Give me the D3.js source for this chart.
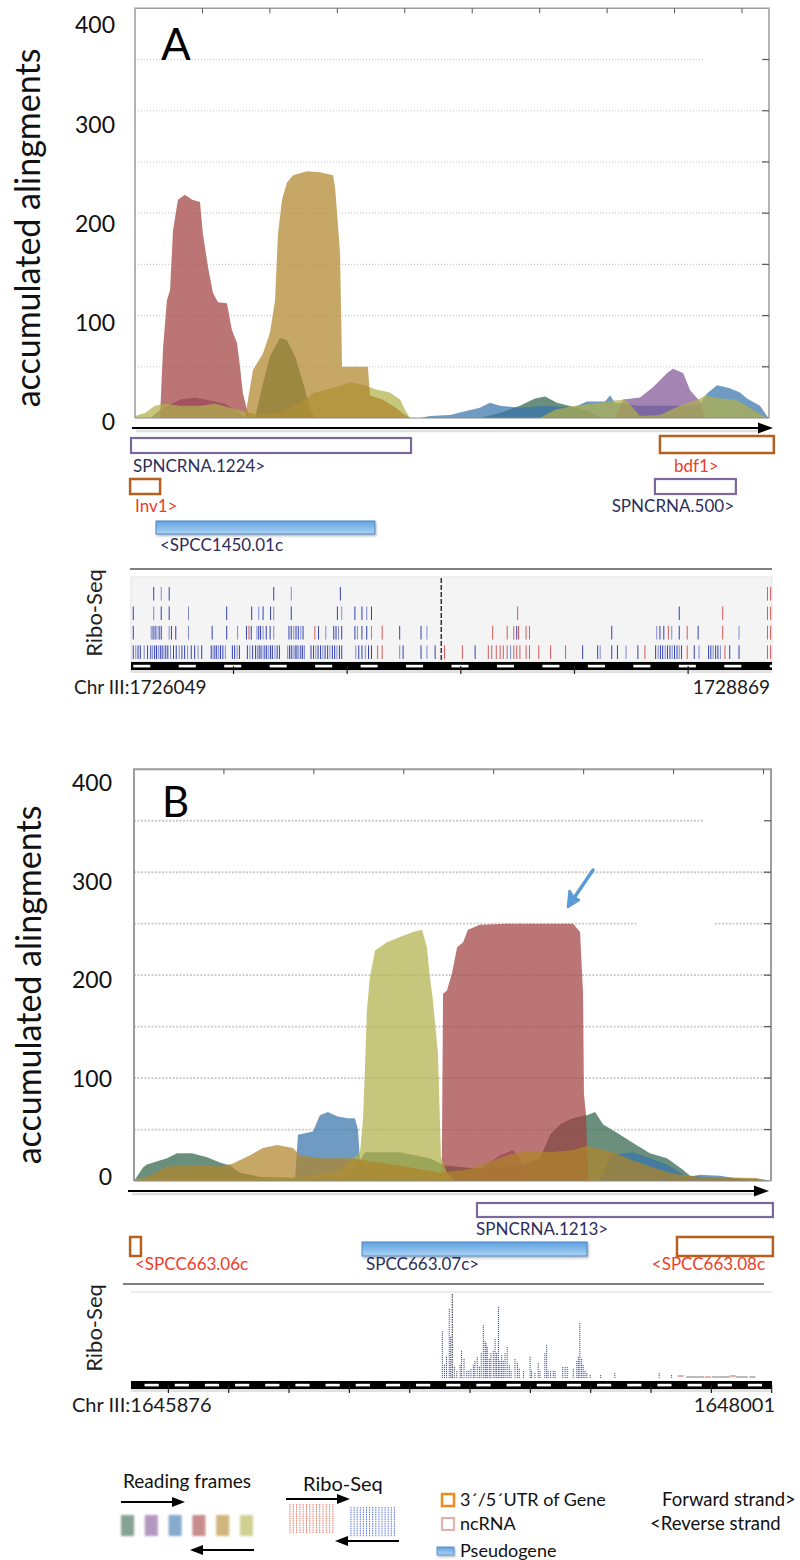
<!DOCTYPE html>
<html>
<head>
<meta charset="utf-8">
<script src="https://cdnjs.cloudflare.com/ajax/libs/d3/7.8.5/d3.min.js"></script>
<style>
  body { margin: 0; background: #fff; }
  svg text { font-family: Lato, "Open Sans", sans-serif; }
</style>
</head>
<body>
<div id="chart"></div>
<script>
// ---------------- data ----------------
// reading frames: green, purple, blue, red, tan, olive
var frameColors = ["#30654b", "#805596", "#3873ab", "#a14040", "#b0852a", "#b0b04b"];
var drawOrder = [0, 2, 1, 3, 5, 4];
var yTicks = [0, 100, 200, 300, 400];
var gridLevels = [50, 100, 150, 200, 250, 300, 350];

var regionA = ["Chr III", 1726049, 1728869];
var regionB = ["Chr III", 1645876, 1648001];

// coverage, [bp offset from region start, accumulated alignments]
var covA_green = [[534,0],[565,30],[600,60],[645,78],[676,76],[712,60],[747,35],[778,10],[800,0],[1534,0],[1623,5],[1712,12],[1779,19],[1824,21],[1877,15],[1948,11],[2024,6],[2068,0]];
var covA_purple = [[67,0],[111,8],[200,18],[267,20],[334,17],[400,14],[445,8],[489,0],[2135,0],[2171,18],[2246,20],[2304,30],[2367,44],[2393,48],[2438,44],[2469,27],[2513,16],[2535,0]];
var covA_blue = [[1268,0],[1312,2],[1401,3],[1477,7],[1534,10],[1579,15],[1623,12],[1712,10],[1824,12],[1948,10],[2010,16],[2090,16],[2113,22],[2135,15],[2246,12],[2335,12],[2469,12],[2513,14],[2544,24],[2589,32],[2646,29],[2691,25],[2722,19],[2780,12],[2811,2],[2820,0]];
var covA_red = [[111,0],[125,69],[142,115],[156,125],[169,183],[191,213],[222,218],[254,213],[289,211],[302,180],[325,147],[347,122],[369,113],[409,112],[431,86],[454,73],[467,50],[480,24],[498,8],[512,0]];
var covA_tan = [[489,0],[512,30],[525,47],[569,63],[600,83],[623,115],[636,180],[654,213],[676,230],[703,237],[765,241],[823,240],[881,237],[890,225],[912,161],[921,50],[1036,50],[1045,22],[1100,18],[1160,10],[1201,3],[1223,0]];
var covA_olive = [[0,2],[44,5],[89,12],[133,14],[200,12],[289,12],[356,14],[423,10],[489,6],[556,3],[645,5],[734,15],[800,25],[890,30],[956,35],[1023,32],[1068,28],[1134,25],[1179,18],[1201,8],[1223,0],[1801,0],[1868,8],[1957,12],[2068,15],[2135,17],[2180,18],[2215,10],[2246,2],[2335,3],[2424,12],[2513,19],[2535,22],[2602,19],[2669,18],[2736,10],[2780,4],[2811,0]];

var covB_green = [[0,0],[30,13],[43,16],[110,22],[143,27],[193,27],[244,23],[287,18],[320,15],[354,8],[420,4],[554,3],[720,5],[771,28],[887,28],[987,22],[1037,15],[1154,12],[1288,15],[1354,22],[1388,45],[1421,55],[1455,60],[1488,63],[1511,64],[1538,67],[1565,55],[1611,47],[1665,37],[1721,27],[1778,22],[1831,11],[1855,5],[1955,3],[2088,2],[2125,0]];
var covB_purple = [[1138,0],[1171,15],[1221,25],[1264,30],[1288,22],[1321,0]];
var covB_blue = [[537,0],[547,45],[597,48],[620,64],[647,67],[677,63],[711,61],[737,61],[747,50],[754,20],[787,8],[854,0],[1555,0],[1588,25],[1665,28],[1721,22],[1778,16],[1845,4],[1888,6],[1955,5],[2022,2],[2055,0]];
var covB_red = [[1021,0],[1027,20],[1031,182],[1044,185],[1061,202],[1078,227],[1098,232],[1114,244],[1154,249],[1244,250],[1465,250],[1488,242],[1498,182],[1501,85],[1508,64],[1515,0]];
var covB_tan = [[0,0],[53,5],[110,14],[220,15],[287,14],[330,17],[387,25],[430,32],[477,35],[530,32],[554,25],[620,22],[721,22],[771,20],[887,15],[1021,8],[1111,11],[1164,16],[1254,26],[1311,29],[1388,28],[1465,30],[1511,34],[1598,28],[1665,20],[1731,13],[1798,7],[1888,4],[2078,3],[2105,0]];
var covB_olive = [[0,2],[220,3],[554,3],[687,10],[721,20],[754,28],[764,60],[771,114],[777,166],[787,198],[804,224],[844,232],[887,237],[931,242],[961,244],[977,227],[987,198],[997,176],[1014,124],[1024,23],[1044,8],[1071,0]];

// annotated features: name, start, end (bp offsets), type, row
var genesA = [
  ["SPNCRNA.1224>", 0, 1232, "ncrna", 0],
  ["bdf1>", 2327, 2828, "utr", 0],
  ["Inv1>", -4, 128, "utr", 1],
  ["SPNCRNA.500>", 2305, 2661, "ncrna", 1],
  ["<SPCC1450.01c", 110, 1073, "pseudo", 2]
];
var genesB = [
  ["SPNCRNA.1213>", 1147, 2128, "ncrna", 0],
  ["<SPCC663.06c", -3, 33, "utr", 1],
  ["SPCC663.07c>", 766, 1512, "pseudo", 1],
  ["<SPCC663.08c", 1810, 2128, "utr", 1]
];

// Ribo-Seq reads, panel A (bp offsets), stacked rows from top
var riboA_row1_blue = [100,133,168,628,705,921];
var riboA_row1_red = [2800,2814];
var riboA_row2_blue = [10,100,133,168,253,421,531,562,581,614,628,705,908,927,985,1016,1037,1058,2412];
var riboA_row2_red = [1701,2603,2800,2814];
var riboA_row3_blue = [10,89,97,106,114,124,133,168,178,197,253,357,421,469,508,529,554,562,570,581,595,612,628,695,705,716,726,736,747,757,825,857,892,902,913,927,985,996,1016,1037,1058,1182,1276,1302,1697,2115,2313,2327,2344,2379,2412,2495,2675];
var riboA_row3_red = [519,809,1105,1591,1655,1684,1705,1738,1753,2364,2447,2603,2800,2814];
var riboA_row4_blue = [10,21,31,41,58,73,87,95,104,112,120,129,137,145,153,162,174,187,199,212,224,236,249,265,280,295,311,353,361,369,377,386,394,404,415,446,456,467,477,512,523,535,548,556,564,572,581,589,597,606,614,622,633,643,653,689,697,705,713,722,730,738,747,755,763,792,803,813,823,834,844,854,865,875,886,896,906,917,927,989,1002,1016,1031,1045,1058,1182,1197,1276,1302,1338,1514,1670,1987,2053,2064,2115,2140,2178,2230,2308,2319,2329,2339,2350,2360,2371,2381,2391,2402,2412,2422,2478,2499,2541,2551,2561,2572,2582,2593,2634,2675];
var riboA_row4_red = [1085,1105,1379,1458,1572,1587,1607,1624,1638,1655,1684,1697,1711,1738,1753,1794,1846,1912,2261,2447,2613,2800,2814];
var riboA_marker = 1365;

// Ribo-Seq reads, panel B: positions and counts
var riboB_pos = [1032,1039,1046,1055,1060,1072,1080,1091,1096,1104,1113,1120,1127,1135,1140,1148,1155,1161,1168,1174,1177,1181,1188,1193,1201,1207,1212,1218,1223,1229,1234,1240,1247,1254,1260,1273,1281,1287,1301,1323,1328,1339,1350,1356,1372,1378,1383,1391,1400,1406,1431,1439,1446,1466,1478,1483,1488,1494,1499,1505,1511,1522,1557,1604,1751,1792];
var riboB_cnt = [47,13,22,70,42,12,7,13,28,20,7,8,9,13,17,22,12,25,53,37,35,32,20,25,27,39,25,72,17,23,18,25,31,13,8,19,16,10,7,22,8,5,16,7,25,34,8,7,8,7,11,11,12,10,17,22,56,20,13,8,5,3,3,5,6,3];
var riboB_black = [[1065, 85]];
var riboB_low = [[1822,2,"r"],[1850,1,"g"],[1870,1,"g"],[1890,1,"g"],[1912,1,"r"],[1935,1,"g"],[1955,1,"g"],[1975,1,"g"],[1995,2,"r"],[2015,1,"g"],[2035,1,"g"],[2060,1,"g"]];

// ---------------- drawing ----------------
var svg = d3.select("#chart").append("svg").attr("width", 800).attr("height", 1560);
var defs = svg.append("defs");
var grad = defs.append("linearGradient").attr("id", "pseudo").attr("x1", 0).attr("y1", 0).attr("x2", 0).attr("y2", 1);
grad.append("stop").attr("offset", "0%").attr("stop-color", "#5fa2e0");
grad.append("stop").attr("offset", "100%").attr("stop-color", "#acd3f4");
defs.append("filter").attr("id", "soft").append("feGaussianBlur").attr("stdDeviation", 0.9);
var shadow = defs.append("filter").attr("id", "shadow").attr("x", "-10%").attr("y", "-40%").attr("width", "120%").attr("height", "200%");
shadow.append("feDropShadow").attr("dx", 1).attr("dy", 1.5).attr("stdDeviation", 1).attr("flood-color", "#000").attr("flood-opacity", 0.3);

var navy = "#2d2d5a", redText = "#f03c28";

function hArrow(g, x1, x2, y, dir, head, half, w, col) {
  col = col || "#000";
  g.append("line").attr("x1", dir > 0 ? x1 : x1 + head - 1).attr("x2", dir > 0 ? x2 - head + 1 : x2)
    .attr("y1", y).attr("y2", y).attr("stroke", col).attr("stroke-width", w);
  var tip = dir > 0 ? x2 : x1, base = tip - dir * head;
  g.append("path").attr("d", "M" + tip + "," + y + "L" + base + "," + (y - half) + "L" + base + "," + (y + half) + "Z")
    .attr("fill", col);
}

function drawCoverage(p) {
  var g = svg.append("g");
  var x = d3.scaleLinear().domain([0, p.len]).range(p.xr);
  var y = d3.scaleLinear().domain([0, 400]).range(p.yr);
  var yl = d3.scaleLinear().domain([0, 400]).range(p.labelRange);

  // grid
  g.selectAll("line.grid").data(gridLevels).enter().append("line")
    .attr("x1", p.xr[0]).attr("x2", function(d) { return d === 350 ? p.topGridEnd : p.xr[1]; })
    .attr("y1", function(d) { return y(d); }).attr("y2", function(d) { return y(d); })
    .attr("stroke", "#c9c9c9").attr("stroke-width", p.gridW).attr("stroke-dasharray", p.gridDash);
  if (p.gridGap) {
    g.append("rect").attr("x", p.gridGap[0]).attr("width", p.gridGap[1] - p.gridGap[0])
      .attr("y", y(250) - 2).attr("height", 4).attr("fill", "#fff");
  }

  // reading-frame areas
  var area = d3.area().x(function(d) { return x(d[0]); }).y0(y(0)).y1(function(d) { return y(d[1]); });
  drawOrder.forEach(function(i) {
    g.append("path").datum(p.cov[i]).attr("d", area)
      .attr("fill", frameColors[i]).attr("fill-opacity", 0.72);
  });

  // frame + ticks
  g.append("path").attr("d", "M" + p.xr[0] + "," + y(0) + "V" + p.yr[1] + "H" + p.xr[1] + "V" + y(0))
    .attr("fill", "none").attr("stroke", "#9c9c9c").attr("stroke-width", p.frameW);
  g.append("line").attr("x1", p.xr[0]).attr("x2", p.xr[1]).attr("y1", y(0)).attr("y2", y(0))
    .attr("stroke", "#8a8a8a").attr("stroke-width", 1);
  g.selectAll("line.tt").data(d3.range(300, p.len, 300)).enter().append("line")
    .attr("x1", function(d) { return x(d); }).attr("x2", function(d) { return x(d); })
    .attr("y1", p.yr[1]).attr("y2", p.yr[1] + 5).attr("stroke", "#555").attr("stroke-width", 1);
  g.selectAll("line.rt").data(gridLevels).enter().append("line")
    .attr("x1", p.xr[1] - 7).attr("x2", p.xr[1])
    .attr("y1", function(d) { return y(d); }).attr("y2", function(d) { return y(d); })
    .attr("stroke", "#555").attr("stroke-width", 1.2);

  // labels
  g.selectAll("text.yt").data(yTicks).enter().append("text")
    .attr("x", p.labelX).attr("y", function(d) { return yl(d); }).attr("dy", "0.36em")
    .attr("text-anchor", "end").attr("font-size", 23).attr("fill", "#111").text(function(d) { return d; });
  g.append("text").attr("transform", "translate(" + p.titleX + "," + p.titleY + ") rotate(-90)")
    .attr("text-anchor", "middle").attr("font-size", 34).attr("fill", "#111").text("accumulated alingments");
  g.append("text").attr("x", p.letterX).attr("y", p.letterY).attr("font-size", p.letterSize)
    .attr("fill", "#000").text(p.letter);

  // strand arrow
  g.append("line").attr("x1", p.arrow[0] + 4).attr("x2", p.arrow[1] - 12).attr("y1", p.arrow[2] + 3).attr("y2", p.arrow[2] + 3)
    .attr("stroke", "#dedede").attr("stroke-width", 2.5);
  hArrow(g, p.arrow[0], p.arrow[1], p.arrow[2], 1, 15, 5.5, 2, "#000");
  return g;
}

function drawGenes(p) {
  var g = svg.append("g");
  var x = d3.scaleLinear().domain([0, p.len]).range([131, 772]);
  p.genes.forEach(function(d) {
    var row = p.rows[d[4]], x0 = x(d[1]), x1 = x(d[2]);
    var h = d[3] === "utr" ? row.hu : row.h, top = row.y + row.h - h;
    var r = g.append("rect").attr("x", x0).attr("y", top).attr("width", x1 - x0).attr("height", h);
    if (d[3] === "pseudo") {
      r.attr("fill", "url(#pseudo)").attr("stroke", "#4d86c2").attr("stroke-width", 1).attr("filter", "url(#shadow)");
    } else if (d[3] === "utr") {
      r.attr("fill", "#fff").attr("stroke", "#b5601e").attr("stroke-width", 2.5);
    } else {
      r.attr("fill", "#fff").attr("stroke", "#7a699d").attr("stroke-width", 2.2);
    }
    var lp = p.labelPos[d[0]];
    g.append("text").attr("x", lp[0]).attr("y", row.ly).attr("text-anchor", lp[1])
      .attr("font-size", 17).attr("fill", d[3] === "utr" ? redText : navy).text(d[0]);
  });
  g.append("line").attr("x1", p.sep[0]).attr("x2", p.sep[1]).attr("y1", p.sep[2]).attr("y2", p.sep[2])
    .attr("stroke", "#555").attr("stroke-width", 1.5);
  return x;
}

function drawRuler(x, p) {
  var g = svg.append("g");
  g.append("rect").attr("x", 131).attr("y", p.y + 8).attr("width", 641).attr("height", 3).attr("fill", "#e2e2e2");
  g.append("rect").attr("x", 131).attr("y", p.y).attr("width", 641).attr("height", 8).attr("fill", "#000");
  var starts = d3.range(p.dashFrom, p.len, p.minor);
  g.selectAll("rect.dash").data(starts).enter().append("rect")
    .attr("x", function(d) { return x(Math.max(d, 0)); })
    .attr("width", function(d) { return Math.max(0, x(Math.min(d + p.dash, p.len)) - x(Math.max(d, 0))); })
    .attr("y", p.y + 2.8).attr("height", 2.6).attr("fill", "#fff");
  g.selectAll("line.maj").data(d3.range(p.firstMajor, p.len + 1, p.major)).enter().append("line")
    .attr("x1", function(d) { return x(d); }).attr("x2", function(d) { return x(d); })
    .attr("y1", p.y + 4).attr("y2", p.y + 12).attr("stroke", "#222").attr("stroke-width", 1.2);
  g.append("text").attr("x", p.labX[0]).attr("y", p.labY).attr("font-size", p.labSize).attr("fill", "#1a1a1a")
    .text(p.region[0] + ":" + p.region[1]);
  g.append("text").attr("x", p.labX[1]).attr("y", p.labY).attr("text-anchor", "end").attr("font-size", p.labSize)
    .attr("fill", "#1a1a1a").text(p.region[2]);
  svg.append("text").attr("transform", "translate(" + 102 + "," + p.riboY + ") rotate(-90)")
    .attr("text-anchor", "middle").attr("font-size", 22).attr("fill", "#222").text("Ribo-Seq");
}

// ---------- panel A ----------
var lenA = regionA[2] - regionA[1];
drawCoverage({
  len: lenA, xr: [135, 769], yr: [418, 8.3], labelRange: [422, 25], labelX: 115,
  cov: [covA_green, covA_purple, covA_blue, covA_red, covA_tan, covA_olive],
  topGridEnd: 705, gridW: 1.1, gridDash: "1,2", frameW: 1.5,
  titleX: 40, titleY: 228, letter: "A", letterX: 161, letterY: 60, letterSize: 44,
  arrow: [132, 773, 428]
});
var xtA = drawGenes({
  len: lenA, genes: genesA,
  rows: [{y: 438, h: 15, hu: 17, ly: 472}, {y: 479, h: 15, hu: 15, ly: 512}, {y: 521, h: 13, hu: 13, ly: 551}],
  labelPos: {"SPNCRNA.1224>": [133, "start"], "bdf1>": [674, "start"], "Inv1>": [135, "start"],
             "SPNCRNA.500>": [734, "end"], "<SPCC1450.01c": [160, "start"]},
  sep: [130, 772, 569]
});

var gRA = svg.append("g");
gRA.append("rect").attr("x", 131).attr("y", 577).attr("width", 641).attr("height", 85)
  .attr("fill", "#f4f4f4").attr("stroke", "#e4e4e4").attr("stroke-width", 1);
var rowsA = [[riboA_row1_blue, riboA_row1_red], [riboA_row2_blue, riboA_row2_red],
             [riboA_row3_blue, riboA_row3_red], [riboA_row4_blue, riboA_row4_red]];
var rowBand = d3.scaleBand().domain(d3.range(4)).range([587, 659]).paddingInner(0.3);
rowsA.forEach(function(r, ri) {
  var y0 = rowBand(ri), y1 = y0 + rowBand.bandwidth();
  gRA.selectAll(null).data(r[0]).enter().append("line")
    .attr("x1", function(d) { return xtA(d); }).attr("x2", function(d) { return xtA(d); })
    .attr("y1", y0).attr("y2", y1).attr("stroke", function(d, i) { return i % 3 === 1 ? "#7f8ad6" : "#3442b0"; })
    .attr("stroke-width", 1);
  gRA.selectAll(null).data(r[1]).enter().append("line")
    .attr("x1", function(d) { return xtA(d); }).attr("x2", function(d) { return xtA(d); })
    .attr("y1", y0).attr("y2", y1).attr("stroke", "#d65a5a").attr("stroke-width", 1);
});
gRA.append("line").attr("x1", xtA(riboA_marker)).attr("x2", xtA(riboA_marker)).attr("y1", 578).attr("y2", 661)
  .attr("stroke", "#333").attr("stroke-width", 1.5).attr("stroke-dasharray", "5,2");
drawRuler(xtA, {len: lenA, y: 662, minor: 200, dash: 75, dashFrom: 10 - 200, major: 500, firstMajor: 451,
  region: regionA, labX: [74, 770], labY: 694, labSize: 19, riboY: 613});

// ---------- panel B ----------
var lenB = regionB[2] - regionB[1];
drawCoverage({
  len: lenB, xr: [134, 771], yr: [1181, 769.3], labelRange: [1177, 783], labelX: 112,
  cov: [covB_green, covB_purple, covB_blue, covB_red, covB_tan, covB_olive],
  topGridEnd: 703, gridW: 1.8, gridDash: "2,1.5", frameW: 2, gridGap: [637, 713],
  titleX: 41, titleY: 985, letter: "B", letterX: 162, letterY: 817, letterSize: 42,
  arrow: [128, 769, 1191]
});
// highlight arrow
var gArr = svg.append("g");
gArr.append("line").attr("x1", 593).attr("y1", 870).attr("x2", 574).attr("y2", 898)
  .attr("stroke", "#5b9bd5").attr("stroke-width", 3.5).attr("stroke-linecap", "round");
gArr.append("path").attr("d", "M568,907 L569.5,891 L573,896.5 L579,900 Z").attr("fill", "#5b9bd5")
  .attr("stroke", "#5b9bd5").attr("stroke-width", 2.5).attr("stroke-linejoin", "round");

var xtB = drawGenes({
  len: lenB, genes: genesB,
  rows: [{y: 1203, h: 14, hu: 14, ly: 1235}, {y: 1242, h: 14, hu: 19, ly: 1270}],
  labelPos: {"SPNCRNA.1213>": [476, "start"], "<SPCC663.06c": [135, "start"],
             "SPCC663.07c>": [366, "start"], "<SPCC663.08c": [765, "end"]},
  sep: [123, 764, 1284]
});
var gRB = svg.append("g");
gRB.append("line").attr("x1", 131).attr("x2", 772).attr("y1", 1292).attr("y2", 1292).attr("stroke", "#e6e6e6").attr("stroke-width", 1.5);
var yRB = d3.scaleLinear().domain([0, 85]).range([1378, 1293]);
gRB.selectAll(null).data(riboB_pos).enter().append("line")
  .attr("x1", function(d) { return xtB(d); }).attr("x2", function(d) { return xtB(d); })
  .attr("y1", yRB(0)).attr("y2", function(d, i) { return yRB(riboB_cnt[i]); })
  .attr("stroke", "#3e52b8").attr("stroke-width", 1).attr("stroke-dasharray", "1.2,0.8");
gRB.selectAll(null).data(riboB_black).enter().append("line")
  .attr("x1", function(d) { return xtB(d[0]); }).attr("x2", function(d) { return xtB(d[0]); })
  .attr("y1", yRB(0)).attr("y2", function(d) { return yRB(d[1]); })
  .attr("stroke", "#222").attr("stroke-width", 1).attr("stroke-dasharray", "1.5,1");
gRB.selectAll(null).data(riboB_low).enter().append("line")
  .attr("x1", function(d) { return xtB(d[0]) - 3; }).attr("x2", function(d) { return xtB(d[0]) + 3; })
  .attr("y1", function(d) { return yRB(d[1]); }).attr("y2", function(d) { return yRB(d[1]); })
  .attr("stroke", function(d) { return d[2] === "r" ? "#d65a5a" : "#777"; }).attr("stroke-width", 1);
drawRuler(xtB, {len: lenB, y: 1381, minor: 100, dash: 47, dashFrom: 45 - 100, major: 200, firstMajor: 124,
  region: regionB, labX: [72, 775], labY: 1412, labSize: 20, riboY: 1328});

// ---------- legend ----------
var lg = svg.append("g");
lg.append("text").attr("x", 123).attr("y", 1488).attr("font-size", 19).attr("fill", "#111").text("Reading frames");
hArrow(lg, 121, 185, 1502, 1, 13, 5, 2.2);
var sw = d3.scaleBand().domain(d3.range(6)).range([121, 253]).paddingInner(0.45);
lg.selectAll("rect.sw").data(frameColors).enter().append("rect")
  .attr("x", function(d, i) { return sw(i); }).attr("y", 1515).attr("width", sw.bandwidth()).attr("height", 21)
  .attr("fill", function(d) { return d; }).attr("fill-opacity", 0.6).attr("filter", "url(#soft)");
hArrow(lg, 190, 254, 1550, -1, 13, 5, 2.2);

lg.append("text").attr("x", 303).attr("y", 1491).attr("font-size", 20).attr("fill", "#111").text("Ribo-Seq");
hArrow(lg, 286, 350, 1499, 1, 13, 5, 2.2);
lg.selectAll("line.rs").data(d3.range(290, 335, 3.3)).enter().append("line")
  .attr("x1", function(d) { return d; }).attr("x2", function(d) { return d; }).attr("y1", 1504).attr("y2", 1533)
  .attr("stroke", "#f0684e").attr("stroke-width", 0.9).attr("stroke-dasharray", "1.5,0.8");
lg.selectAll("line.bs").data(d3.range(351, 395, 3.1)).enter().append("line")
  .attr("x1", function(d) { return d; }).attr("x2", function(d) { return d; }).attr("y1", 1507).attr("y2", 1537)
  .attr("stroke", "#4f6ae0").attr("stroke-width", 0.9).attr("stroke-dasharray", "1.5,0.8");
hArrow(lg, 335, 399, 1541, -1, 13, 5, 2.2);

lg.append("rect").attr("x", 442).attr("y", 1494).attr("width", 12).attr("height", 12)
  .attr("fill", "#fff").attr("stroke", "#f28a1c").attr("stroke-width", 2.5);
lg.append("rect").attr("x", 442).attr("y", 1518).attr("width", 12).attr("height", 12)
  .attr("fill", "#fff").attr("stroke", "#e2b2b2").attr("stroke-width", 2.2);
lg.append("rect").attr("x", 437).attr("y", 1547).attr("width", 17).attr("height", 8)
  .attr("fill", "url(#pseudo)").attr("stroke", "#4d86c2").attr("stroke-width", 0.8).attr("filter", "url(#shadow)");
lg.append("text").attr("x", 460).attr("y", 1506).attr("font-size", 18).attr("fill", "#111").text("3\u00b4/5\u00b4UTR of Gene");
lg.append("text").attr("x", 460).attr("y", 1530).attr("font-size", 18).attr("fill", "#111").text("ncRNA");
lg.append("text").attr("x", 460).attr("y", 1557).attr("font-size", 18).attr("fill", "#111").text("Pseudogene");
lg.append("text").attr("x", 662).attr("y", 1506).attr("font-size", 18.5).attr("fill", "#111").text("Forward strand>");
lg.append("text").attr("x", 650).attr("y", 1530).attr("font-size", 18.5).attr("fill", "#111").text("<Reverse strand");
</script>
</body>
</html>
